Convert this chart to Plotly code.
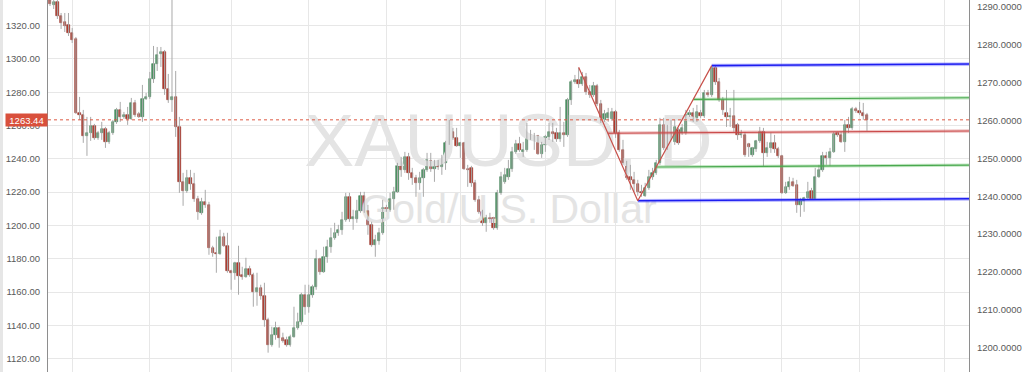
import plotly.graph_objects as go
import pandas as pd

# ---------------- data (XAUUSD daily) ----------------
opens = [1335.4,1332.4,1334.2,1325.8,1322.2,1320.4,1315.6,1312.0,1267.6,1266.4,
1253.8,1255.6,1259.8,1252.6,1255.6,1258.0,1250.2,1255.6,1262.2,1269.4,
1265.2,1266.4,1264.0,1273.6,1267.0,1265.2,1276.0,1277.2,1288.0,1297.0,
1303.0,1304.2,1282.0,1275.4,1277.2,1259.2,1226.2,1220.8,1228.6,1225.0,
1216.0,1207.6,1214.2,1212.4,1186.6,1183.6,1183.0,1193.2,1187.8,1172.8,
1171.6,1177.6,1170.4,1169.2,1174.0,1170.4,1160.2,1162.6,1157.8,1143.4,
1128.4,1134.4,1138.6,1132.6,1131.4,1128.4,1133.2,1138.6,1142.2,1158.4,
1151.2,1158.4,1163.2,1180.0,1172.2,1181.2,1187.2,1192.6,1195.6,1197.4,
1203.4,1217.2,1204.0,1204.0,1208.8,1217.8,1208.8,1200.4,1188.4,1190.8,
1195.6,1210.6,1209.4,1216.0,1220.2,1235.8,1233.4,1241.2,1231.6,1228.6,
1225.6,1228.6,1233.4,1238.8,1234.0,1237.6,1235.2,1237.6,1249.6,1256.2,
1252.6,1247.8,1249.6,1234.0,1234.6,1225.6,1215.4,1208.2,1201.6,1204.6,
1204.6,1198.6,1219.6,1226.2,1229.2,1234.0,1244.2,1249.0,1244.2,1245.4,
1254.4,1253.8,1253.8,1243.0,1248.4,1253.2,1256.2,1255.6,1252.0,1255.6,
1254.4,1275.4,1286.2,1287.4,1285.0,1289.2,1280.2,1278.4,1283.8,1273.0,
1263.4,1264.6,1264.0,1268.2,1255.6,1245.4,1237.6,1229.2,1227.4,1225.0,
1220.2,1217.8,1222.6,1229.2,1231.6,1237.6,1260.4,1246.6,1255.6,1250.2,
1257.4,1255.6,1255.6,1266.4,1267.6,1264.6,1267.6,1265.8,1279.6,1278.4,
1294.6,1286.2,1275.4,1267.6,1265.2,1265.8,1260.4,1254.4,1254.4,1249.0,
1242.4,1246.0,1250.8,1256.2,1243.6,1246.6,1249.6,1246.0,1241.8,1219.6,
1223.2,1226.2,1224.4,1212.4,1214.8,1216.6,1220.8,1216.0,1229.2,1233.4,
1241.8,1240.6,1244.2,1255.6,1254.4,1250.2,1260.4,1258.6,1270.0,1268.8,
1267.6,1266.4]

highs = [1337.8,1336.6,1335.4,1327.6,1327.6,1327.6,1318.6,1313.2,1277.2,1269.4,
1265.2,1265.2,1261.0,1256.8,1262.2,1259.2,1256.8,1263.4,1270.6,1274.2,
1268.2,1271.2,1276.6,1275.4,1268.2,1284.4,1279.6,1292.2,1307.8,1307.2,
1307.2,1305.4,1291.0,1337.4,1292.8,1265.2,1231.6,1233.4,1233.4,1231.6,
1217.8,1216.6,1221.4,1214.2,1187.8,1193.2,1197.4,1195.6,1195.6,1173.4,
1178.2,1187.8,1175.2,1180.6,1175.8,1171.6,1171.6,1164.4,1165.6,1144.6,
1139.2,1142.2,1139.2,1135.6,1133.2,1134.4,1151.2,1147.6,1159.6,1164.4,
1164.4,1164.4,1185.4,1180.6,1187.2,1191.4,1198.6,1201.6,1200.4,1208.2,
1219.6,1219.6,1209.4,1215.4,1220.2,1220.2,1212.4,1202.2,1194.4,1198.6,
1215.4,1212.4,1219.6,1223.2,1237.6,1241.2,1244.2,1243.6,1234.6,1230.4,
1232.2,1234.6,1243.6,1243.6,1239.4,1239.4,1242.4,1250.8,1263.4,1258.6,
1258.6,1250.2,1250.2,1236.4,1235.8,1227.4,1217.8,1209.4,1206.4,1207.6,
1205.2,1221.4,1232.2,1234.6,1239.4,1247.2,1251.4,1253.2,1250.2,1261.6,
1257.4,1255.6,1254.4,1250.2,1254.4,1261.6,1261.6,1258.6,1271.2,1262.2,
1276.6,1287.4,1290.4,1294.6,1292.2,1291.6,1284.4,1286.2,1285.0,1275.4,
1269.4,1270.6,1270.6,1269.4,1257.4,1251.4,1238.8,1236.4,1232.2,1227.4,
1224.4,1225.6,1233.4,1234.6,1239.4,1264.6,1264.6,1260.4,1263.4,1263.4,
1258.6,1261.0,1269.4,1269.4,1270.6,1272.4,1269.4,1281.4,1281.4,1295.8,
1295.8,1288.6,1277.2,1281.4,1270.6,1281.4,1261.6,1257.4,1256.2,1249.6,
1247.2,1251.4,1259.2,1258.6,1250.2,1255.6,1254.4,1247.2,1242.4,1226.2,
1229.2,1228.6,1227.4,1216.6,1217.2,1226.2,1222.6,1234.6,1236.4,1244.2,
1244.2,1246.6,1256.2,1256.2,1256.2,1263.4,1265.2,1271.2,1271.2,1274.2,
1273.6,1267.6]

lows = [1331.8,1330.0,1324.0,1318.0,1316.2,1313.8,1309.6,1267.0,1263.4,1249.6,
1241.8,1250.8,1251.4,1251.4,1251.4,1246.6,1249.0,1254.4,1261.0,1262.2,
1264.0,1260.4,1263.4,1265.2,1264.6,1262.2,1275.4,1276.0,1285.6,1292.8,
1295.2,1278.4,1273.6,1268.2,1253.2,1219.6,1211.8,1219.6,1221.4,1214.2,
1203.4,1206.4,1210.6,1182.4,1181.2,1171.6,1182.4,1187.2,1171.6,1161.4,
1167.4,1158.4,1167.4,1168.6,1169.2,1151.2,1151.8,1155.4,1139.2,1123.6,
1127.2,1131.4,1126.6,1129.6,1127.2,1127.2,1132.6,1137.4,1140.4,1146.4,
1147.6,1156.6,1161.4,1170.4,1171.6,1177.6,1183.6,1191.4,1193.8,1194.4,
1202.2,1202.2,1197.4,1201.6,1207.6,1207.6,1194.4,1187.2,1181.2,1188.4,
1194.4,1208.2,1208.2,1209.4,1219.6,1229.2,1231.6,1227.4,1224.4,1217.2,
1221.4,1217.2,1232.2,1232.2,1226.2,1233.4,1230.4,1233.4,1248.4,1251.4,
1247.2,1240.6,1233.4,1223.2,1223.2,1214.2,1207.0,1199.8,1196.2,1201.6,
1197.4,1197.4,1218.4,1225.0,1227.4,1232.2,1243.0,1244.2,1241.2,1244.2,
1251.4,1245.4,1242.4,1240.6,1244.2,1251.4,1250.2,1250.2,1250.2,1247.2,
1253.2,1272.4,1285.0,1282.6,1283.8,1278.4,1276.6,1277.2,1271.8,1261.6,
1262.2,1262.2,1262.8,1252.6,1244.2,1236.4,1227.4,1221.4,1220.2,1217.8,
1217.2,1217.2,1221.4,1227.4,1230.4,1236.4,1245.4,1245.4,1251.4,1248.4,
1248.4,1254.4,1254.4,1265.2,1262.2,1262.2,1264.6,1264.6,1277.2,1277.2,
1284.4,1274.2,1266.4,1259.2,1259.2,1256.2,1251.4,1252.6,1241.2,1241.2,
1241.2,1244.2,1249.6,1235.2,1241.2,1243.6,1243.6,1240.6,1219.0,1219.0,
1221.4,1223.2,1207.6,1205.2,1208.2,1215.4,1215.4,1215.4,1228.6,1232.2,
1236.4,1235.8,1243.6,1253.2,1249.6,1244.2,1255.6,1257.4,1267.6,1266.4,
1263.4,1256.8]

closes = [1333.0,1334.2,1325.8,1321.6,1319.8,1315.6,1311.4,1267.6,1266.4,1253.8,
1255.6,1259.8,1252.6,1255.6,1258.0,1250.2,1255.6,1262.2,1269.4,1265.2,
1266.4,1264.0,1273.6,1266.4,1265.2,1276.0,1277.2,1288.0,1297.0,1302.4,
1304.2,1282.0,1275.4,1277.2,1259.2,1226.2,1220.8,1228.6,1225.0,1216.0,
1208.2,1214.2,1212.4,1186.6,1183.6,1183.0,1193.2,1187.8,1172.8,1171.6,
1177.6,1169.8,1169.2,1174.0,1170.4,1160.2,1162.6,1157.8,1143.4,1128.4,
1134.4,1138.6,1132.6,1130.8,1128.4,1133.2,1138.6,1142.2,1158.4,1151.2,
1158.4,1163.2,1180.0,1172.2,1181.2,1187.2,1192.6,1195.6,1197.4,1203.4,
1217.2,1204.0,1205.2,1208.8,1217.8,1208.8,1200.4,1188.4,1191.4,1195.6,
1210.6,1209.4,1216.0,1220.2,1235.8,1233.4,1241.2,1231.6,1228.6,1225.6,
1228.6,1233.4,1239.4,1234.0,1237.6,1235.2,1237.6,1249.6,1256.2,1252.6,
1247.8,1249.6,1234.0,1233.4,1225.6,1215.4,1208.2,1201.6,1204.6,1204.0,
1198.6,1219.6,1229.2,1230.4,1234.0,1244.2,1249.0,1245.4,1245.4,1254.4,
1252.0,1252.0,1243.0,1248.4,1253.2,1256.2,1255.0,1252.0,1255.6,1254.4,
1275.4,1286.2,1287.4,1285.0,1289.2,1280.2,1278.4,1283.8,1273.0,1263.4,
1267.0,1267.6,1268.2,1255.6,1245.4,1237.6,1228.6,1227.4,1225.0,1220.2,
1219.6,1222.6,1229.2,1231.6,1237.6,1260.4,1246.6,1255.6,1253.2,1259.2,
1249.6,1258.6,1266.4,1267.6,1263.4,1268.2,1265.8,1279.6,1278.4,1294.6,
1286.2,1275.4,1269.4,1265.2,1265.8,1258.6,1254.4,1255.0,1242.4,1247.2,
1246.6,1250.8,1256.2,1243.6,1246.6,1249.6,1246.0,1241.8,1219.6,1223.2,
1226.2,1223.8,1212.4,1214.8,1216.6,1220.2,1216.0,1229.2,1233.4,1241.8,
1240.6,1244.2,1255.0,1254.4,1250.2,1260.4,1258.6,1270.0,1268.8,1267.6,
1265.8,1263.44]

first_day = "2016-09-23"
last_day = "2017-09-29"
holidays = ["2016-12-26", "2017-01-02", "2017-04-14"]

left_ticks = [1120, 1140, 1160, 1180, 1200, 1220, 1240, 1260, 1280, 1300, 1320]
right_ticks = [1200, 1210, 1220, 1230, 1240, 1250, 1260, 1270, 1280, 1290]

# pitchfork / channel pivots: (bar index, price)
pivot_x = [143, 159, 179]
pivot_y = [1295.0, 1214.8, 1296.0]
channel_levels = [0.0, 0.25, 0.5, 0.75, 1.0]
channel_slope = 0.0135          # price per bar
watermark_title = "XAUUSD, D"
watermark_sub = "Gold/U.S. Dollar"

# ---------------- derived ----------------
n = len(closes)
days = pd.bdate_range(first_day, last_day)
days = days[~days.isin(pd.to_datetime(holidays))]
month_starts = [i for i in range(1, len(days)) if days[i].month != days[i - 1].month]

x_range = [-0.54, 248.6]
y_range = [1112.0, 1335.4]
y2_range = [1193.6, 1291.8]
last_price = closes[-1]

xs = list(range(n))
up = [c >= o for o, c in zip(opens, closes)]

wick_x, wick_y = [], []
for i in range(n):
    wick_x += [i, i, None]
    wick_y += [max(highs[i], opens[i], closes[i]), min(lows[i], opens[i], closes[i]), None]

body_base = [min(o, c) for o, c in zip(opens, closes)]
body_h = [max(abs(c - o), 0.35) for o, c in zip(opens, closes)]
body_fill = ["#4e9566" if u else "#b23a2d" for u in up]
body_line = ["#3a7a4f" if u else "#8f2b21" for u in up]

fig = go.Figure()

# watermark (behind everything)
xm = (x_range[0] + x_range[1]) / 2
fig.add_trace(go.Scatter(x=[xm], y=[1247.0], mode="text", text=[watermark_title],
                         textposition="middle center",
                         textfont=dict(size=75, color="#e4e4e4", family="Liberation Sans, Arial"),
                         hoverinfo="skip", showlegend=False))
fig.add_trace(go.Scatter(x=[xm], y=[1207.8], mode="text", text=[watermark_sub],
                         textposition="middle center",
                         textfont=dict(size=41, color="#e4e4e4", family="Liberation Sans, Arial"),
                         hoverinfo="skip", showlegend=False))

# wicks
fig.add_trace(go.Scatter(x=wick_x, y=wick_y, mode="lines",
                         line=dict(color="#a9a9a9", width=1),
                         hoverinfo="skip", showlegend=False))
# bodies
fig.add_trace(go.Bar(x=xs, y=body_h, base=body_base, width=0.62,
                     marker=dict(color=body_fill, line=dict(color=body_line, width=0.6)),
                     hoverinfo="skip", showlegend=False))

# channel lines
x_end = x_range[1]
lo, hi = pivot_y[1], pivot_y[2]
channel_style = {
    0.0: ("#1d1df0", "rgba(70,70,255,0.35)", 1.6),
    0.25: ("#49a84f", "rgba(90,190,90,0.35)", 1.1),
    0.5: ("#c94646", "rgba(210,90,90,0.35)", 1.1),
    0.75: ("#49a84f", "rgba(90,190,90,0.35)", 1.1),
    1.0: ("#1d1df0", "rgba(70,70,255,0.35)", 1.6),
}
for lv in channel_levels:
    price = lo + lv * (hi - lo)
    if lv == 0.5:
        # start on the falling leg
        t = (pivot_y[0] - price) / (pivot_y[0] - pivot_y[1])
        xs0 = pivot_x[0] + t * (pivot_x[1] - pivot_x[0])
    else:
        xs0 = pivot_x[1] + lv * (pivot_x[2] - pivot_x[1])
    core, halo, w = channel_style[lv]
    yy = [price, price + channel_slope * (x_end - xs0)]
    fig.add_trace(go.Scatter(x=[xs0, x_end], y=yy, mode="lines",
                             line=dict(color=halo, width=w + 2.2),
                             hoverinfo="skip", showlegend=False))
    fig.add_trace(go.Scatter(x=[xs0, x_end], y=yy, mode="lines",
                             line=dict(color=core, width=w),
                             hoverinfo="skip", showlegend=False))

# zigzag of pivots
fig.add_trace(go.Scatter(x=pivot_x, y=pivot_y, mode="lines",
                         line=dict(color="#c8504a", width=1.2),
                         hoverinfo="skip", showlegend=False))

# dummy trace to show right axis
fig.add_trace(go.Scatter(x=[x_range[0]], y=[y2_range[0]], yaxis="y2", mode="markers",
                         marker=dict(opacity=0), hoverinfo="skip", showlegend=False))

font_fam = "Liberation Sans, Arial, sans-serif"
fig.update_layout(
    width=1024, height=372, autosize=False,
    margin=dict(l=48, r=55, t=0, b=0, pad=0),
    paper_bgcolor="white", plot_bgcolor="white",
    showlegend=False, bargap=0,
    xaxis=dict(range=x_range, tickvals=month_starts, showticklabels=False,
               showgrid=True, gridcolor="#e7e7e7", gridwidth=1,
               zeroline=False, showline=False, ticks="", automargin=False,
               fixedrange=True),
    yaxis=dict(range=y_range, tickvals=left_ticks,
               ticktext=[f"{v:.2f}" for v in left_ticks],
               tickfont=dict(size=9.5, color="#5a5a5a", family=font_fam),
               showgrid=True, gridcolor="#e7e7e7", gridwidth=1,
               zeroline=False, showline=True, linecolor="#8e8e8e", linewidth=1,
               ticks="outside", ticklen=5, tickcolor="rgba(0,0,0,0)",
               automargin=False),
    yaxis2=dict(range=y2_range, overlaying="y", side="right", tickvals=right_ticks,
                ticktext=[f"{v:.4f}" for v in right_ticks],
                tickfont=dict(size=9.5, color="#5a5a5a", family=font_fam),
                showgrid=False, zeroline=False, showline=True,
                linecolor="#8e8e8e", linewidth=1,
                ticks="outside", ticklen=5, tickcolor="rgba(0,0,0,0)",
                automargin=False),
    shapes=[
        dict(type="line", xref="paper", yref="y", x0=0, x1=1,
             y0=last_price, y1=last_price,
             line=dict(color="#dd5a44", width=1, dash="dot"), layer="above"),
        dict(type="rect", xref="paper", yref="paper", x0=-48 / 921, x1=-45 / 921,
             y0=0, y1=1, fillcolor="#e6e6e6", line=dict(width=0), layer="below"),
    ],
    annotations=[
        dict(xref="paper", yref="y", x=0, y=last_price, xanchor="right", yanchor="middle",
             text=f"{last_price:.2f}", showarrow=False,
             font=dict(size=9.5, color="white", family=font_fam),
             bgcolor="#d9503c", width=41, height=12, borderpad=0),
    ],
)

fig.write_html("out.html", config={"displayModeBar": False})
